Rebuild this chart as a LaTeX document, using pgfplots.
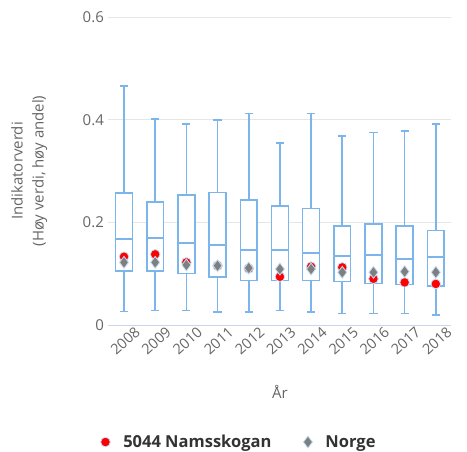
\documentclass[border=0pt]{standalone}
\usepackage{fontspec}
\setmainfont{Open Sans}
\usepackage{pgfplots}
\pgfplotsset{compat=1.18}
\usepgfplotslibrary{statistics}
\definecolor{hcblue}{HTML}{7CB5EC}
\definecolor{hcgrid}{HTML}{E6E6E6}
\definecolor{axisline}{HTML}{CCD6EB}
\definecolor{txt}{HTML}{666666}
\definecolor{legtxt}{HTML}{333333}
\definecolor{dia}{HTML}{7F7F7F}
\begin{document}
\begin{tikzpicture}
\begin{axis}[
  at={(0pt,0pt)}, anchor=origin,
  scale only axis, width=343pt, height=308pt,
  xmin=-0.5, xmax=10.5, ymin=0, ymax=0.6,
  axis line style={draw=none},
  ytick={0,0.2,0.4,0.6},
  yticklabels={0,0.2,0.4,0.6},
  xmajorgrids=false, ymajorgrids=true,
  major grid style={draw=hcgrid, line width=1pt},
  major tick length=0pt,
  xtick={0,...,10},
  xticklabels={2008,2009,2010,2011,2012,2013,2014,2015,2016,2017,2018},
  x tick label style={rotate=42, anchor=north east, font=\fontsize{14.5}{16}\selectfont, text=txt, inner sep=1pt, xshift=8pt, yshift=-6pt},
  y tick label style={font=\fontsize{15}{16}\selectfont, text=txt},
  yticklabel style={xshift=-1pt},
  xlabel={År}, xlabel style={font=\fontsize{15}{16}\selectfont, text=txt, yshift=-24pt},
  ylabel={Indikatorverdi\\(Høy verdi, høy andel)},
  ylabel style={at={(axis description cs:-0.231,0.5)}, anchor=center, align=center, font=\fontsize{15}{21}\selectfont, text=txt},
  legend style={at={(0.381,-0.38)}, anchor=center, draw=none, fill=none, font=\bfseries\fontsize{16.5}{18}\selectfont, text=legtxt, legend cell align=left, column sep=11pt, /tikz/every even column/.append style={column sep=30pt}},
  legend columns=2,
  clip=false,
  boxplot/draw direction=y,
  boxplot/box extend=0.54,
  boxplot/whisker extend=0.26,
  boxplot/every box/.style={draw=hcblue, line width=1.6pt, fill=white},
  boxplot/every whisker/.style={draw=hcblue, line width=1.6pt},
  boxplot/every median/.style={draw=hcblue, line width=2.2pt},
]
\draw[axisline, line width=1pt] (axis cs:-0.5,0) -- (axis cs:10.5,0);
\addplot[boxplot prepared={draw position=0, lower whisker=0.026, lower quartile=0.105, median=0.167, upper quartile=0.257, upper whisker=0.466}, forget plot] coordinates {};
\addplot[boxplot prepared={draw position=1, lower whisker=0.028, lower quartile=0.105, median=0.1695, upper quartile=0.240, upper whisker=0.401}, forget plot] coordinates {};
\addplot[boxplot prepared={draw position=2, lower whisker=0.028, lower quartile=0.100, median=0.159, upper quartile=0.253, upper whisker=0.391}, forget plot] coordinates {};
\addplot[boxplot prepared={draw position=3, lower whisker=0.025, lower quartile=0.093, median=0.156, upper quartile=0.258, upper whisker=0.399}, forget plot] coordinates {};
\addplot[boxplot prepared={draw position=4, lower whisker=0.025, lower quartile=0.087, median=0.146, upper quartile=0.2435, upper whisker=0.412}, forget plot] coordinates {};
\addplot[boxplot prepared={draw position=5, lower whisker=0.028, lower quartile=0.087, median=0.146, upper quartile=0.232, upper whisker=0.354}, forget plot] coordinates {};
\addplot[boxplot prepared={draw position=6, lower whisker=0.025, lower quartile=0.087, median=0.141, upper quartile=0.227, upper whisker=0.412}, forget plot] coordinates {};
\addplot[boxplot prepared={draw position=7, lower whisker=0.0228, lower quartile=0.0844, median=0.135, upper quartile=0.193, upper whisker=0.368}, forget plot] coordinates {};
\addplot[boxplot prepared={draw position=8, lower whisker=0.0228, lower quartile=0.081, median=0.136, upper quartile=0.197, upper whisker=0.375}, forget plot] coordinates {};
\addplot[boxplot prepared={draw position=9, lower whisker=0.0228, lower quartile=0.0786, median=0.1286, upper quartile=0.193, upper whisker=0.378}, forget plot] coordinates {};
\addplot[boxplot prepared={draw position=10, lower whisker=0.020, lower quartile=0.076, median=0.1325, upper quartile=0.184, upper whisker=0.391}, forget plot] coordinates {};
\addplot[only marks, mark=*, mark size=4.8pt, mark options={fill=red, draw=hcblue!45, line width=0.8pt}] coordinates {
(0,0.133) (1,0.1377) (2,0.122) (3,0.1155) (4,0.110) (5,0.094) (6,0.1136) (7,0.1123) (8,0.090) (9,0.083) (10,0.080)};
\addlegendentry{5044 Namsskogan}
\addplot[only marks, mark=diamond*, mark size=6pt, mark options={fill=dia, draw=hcblue!45, line width=0.8pt}] coordinates {
(0,0.122) (1,0.122) (2,0.117) (3,0.1155) (4,0.111) (5,0.109) (6,0.109) (7,0.1026) (8,0.1026) (9,0.104) (10,0.1026)};
\addlegendentry{Norge}
\end{axis}
\pgfresetboundingbox
\useasboundingbox (-124pt,-126pt) rectangle (343pt,325pt);
\end{tikzpicture}
\end{document}
